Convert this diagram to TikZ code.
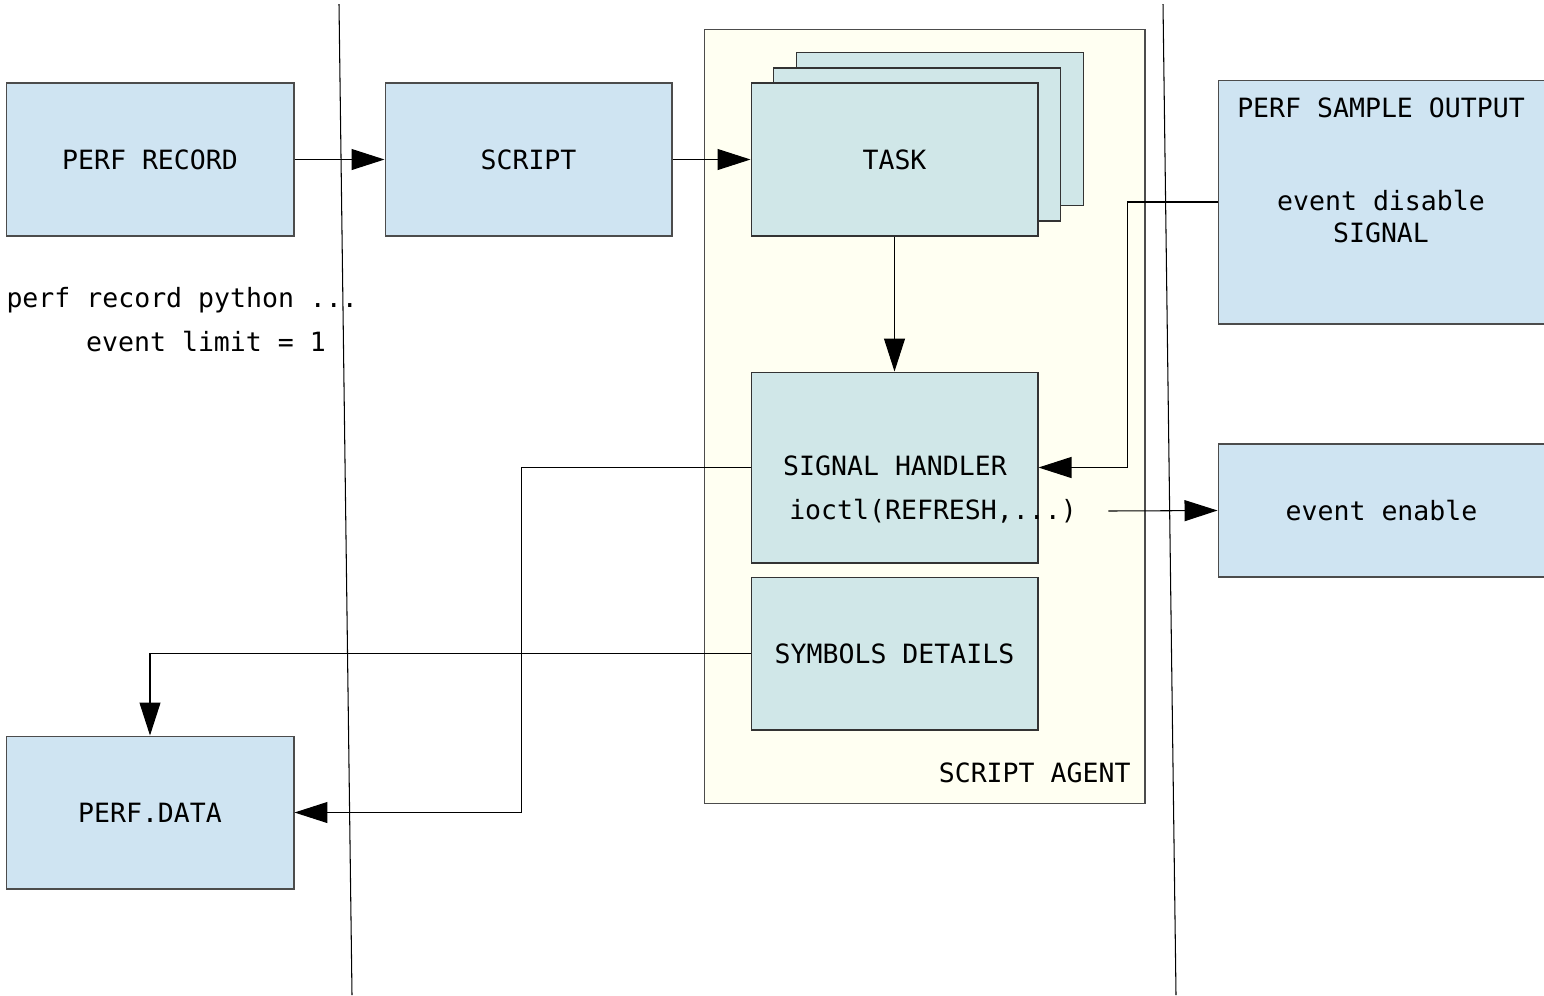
\documentclass[tikz,border=0pt]{standalone}
\usepackage{fontspec}
\setmainfont{DejaVu Sans Mono}
\usetikzlibrary{arrows.meta}

\definecolor{boxblue}{RGB}{207,228,242}
\definecolor{boxteal}{RGB}{208,231,232}
\definecolor{agentbg}{RGB}{255,255,242}

\begin{document}
\begin{tikzpicture}[x=0.02cm,y=-0.02cm,>={Triangle[length=0.66cm,width=0.42cm]},line width=0.6pt,font=\fontsize{15.1pt}{18pt}\selectfont]
    \tikzstyle{bluebox}=[draw=black!70, fill=boxblue, minimum width=5.76cm, minimum height=3.06cm]
    \tikzstyle{tealbox}=[draw=black!80, fill=boxteal, minimum width=5.74cm, minimum height=3.06cm]
    \tikzstyle{wire}=[draw=black, line width=0.6pt]

    \useasboundingbox (0,0) rectangle (1544,995);

    % left column
    \node[bluebox] (record) at (150,159.5) {PERF RECORD};
    \node[bluebox] (data) at (150,812.5) {PERF.DATA};
    \node[anchor=west, inner sep=0pt] (cmd) at (6,300) {perf record python ...};
    \node[inner sep=0pt] (limit) at (206,342) {event limit = 1};

    % script
    \node[bluebox, minimum width=5.74cm] (script) at (528.5,159.5) {SCRIPT};

    % agent
    \node[draw=black!70, fill=agentbg, minimum width=8.82cm, minimum height=15.5cm] (agent) at (924.5,416.5) {};
    \node[anchor=east, inner sep=0pt] (agentlbl) at (1131,773) {SCRIPT AGENT};
    \node[tealbox] (task3) at (940,129) {};
    \node[tealbox] (task2) at (917,144.5) {};
    \node[tealbox] (task) at (894.5,159.5) {TASK};
    \node[tealbox, minimum height=3.82cm] (handler) at (894.5,467.5) {};
    \node[inner sep=0pt] (hlbl) at (895,466) {SIGNAL HANDLER};
    \node[inner sep=0pt] (ioctl) at (933,511) {ioctl(REFRESH,...)};
    \node[tealbox] (symbols) at (894.5,653.5) {SYMBOLS DETAILS};

    % right column
    \node[bluebox, minimum width=6.54cm, minimum height=4.88cm] (sample) at (1381.5,202) {};
    \node[inner sep=0pt] (samplelbl) at (1381,108) {PERF SAMPLE OUTPUT};
    \node[align=center, inner sep=0pt] (disable) at (1381,216.5) {event disable\\SIGNAL};
    \node[bluebox, minimum width=6.54cm, minimum height=2.66cm] (enable) at (1381.5,510.5) {event enable};

    % connectors
    \path[wire] (record) edge[->] (script);
    \path[wire] (script) edge[->] (task);
    \path[wire] (task) edge[->] (handler);
    \draw[wire,->] (sample.west) -- ++(-90,0) |- (handler.east);
    \draw[wire,->] ([xshift=0.62cm]ioctl.east) -- (enable.west);
    \draw[wire,->] (handler.west) -- ++(-229,0) |- (data.east);
    \draw[wire,->] (symbols.west) -| (data.north);

    % separators
    \coordinate (sepAtop) at (339,4);
    \coordinate (sepAbot) at (352,995);
    \coordinate (sepBtop) at (1163,4);
    \coordinate (sepBbot) at (1176,995);
    \draw[black] (sepAtop) -- (sepAbot);
    \draw[black] (sepBtop) -- (sepBbot);
\end{tikzpicture}
\end{document}
